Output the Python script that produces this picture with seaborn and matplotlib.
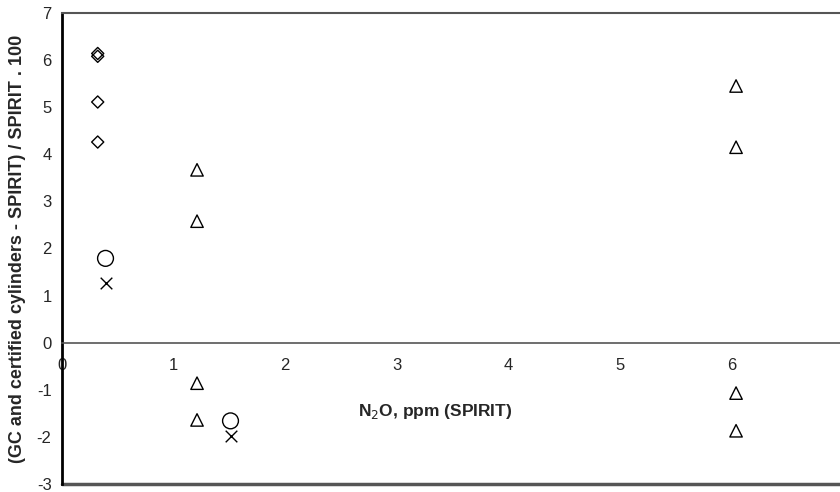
import matplotlib
matplotlib.use('Agg')
import matplotlib.pyplot as plt
import pandas as pd
import seaborn as sns

sns.set_style('white')
plt.rcParams['font.family'] = ['Liberation Sans', 'DejaVu Sans']
plt.rcParams['axes.unicode_minus'] = False

# diamonds
diam_x = [0.32, 0.32, 0.32, 0.32]
diam_y = [6.14, 6.08, 5.11, 4.26]
# triangles
tri_x = [1.21, 1.21, 1.21, 1.21, 6.04, 6.04, 6.04, 6.04]
tri_y = [3.67, 2.58, -0.86, -1.64, 5.45, 4.15, -1.07, -1.87]
# circles
circ_x = [0.39, 1.51]
circ_y = [1.79, -1.66]
# crosses
cross_x = [0.39, 1.51]
cross_y = [1.26, -1.99]

x_ticks = [0, 1, 2, 3, 4, 5, 6]
y_ticks = [-3, -2, -1, 0, 1, 2, 3, 4, 5, 6, 7]

fig = plt.figure(figsize=(8.4, 4.92), dpi=100)
ax = fig.add_axes([0.0738, 0.0163, 0.93, 0.9573])

sns.scatterplot(x=diam_x, y=diam_y, marker='D', s=38, facecolors='none',
                edgecolor='black', linewidth=1, ax=ax)
sns.scatterplot(x=tri_x, y=tri_y, marker='^', s=80, facecolors='none',
                edgecolor='black', linewidth=1, ax=ax)
sns.scatterplot(x=circ_x, y=circ_y, marker='o', s=130, facecolors='none',
                edgecolor='black', linewidth=1, ax=ax)
sns.scatterplot(x=cross_x, y=cross_y, marker='x', s=70, color='black',
                linewidth=1, ax=ax)

ax.set_xlim(0, 7)
ax.set_ylim(-3, 7)
ax.set_xticks(x_ticks)
ax.set_yticks(y_ticks)
ax.tick_params(axis='both', labelsize=12, direction='out', length=4,
               width=1, color='black')
ax.tick_params(axis='x', pad=7)

ax.spines['right'].set_visible(False)
ax.spines['left'].set_color('black')
ax.spines['left'].set_linewidth(2)
ax.spines['top'].set_color('#555555')
ax.spines['top'].set_linewidth(1.5)
ax.spines['bottom'].set_position(('data', 0))
ax.spines['bottom'].set_color('#555555')
ax.spines['bottom'].set_linewidth(1.2)
ax.axhline(ax.get_ylim()[0], color='#555555', lw=2.5, clip_on=False)

ax.set_ylabel('(GC and certified cylinders - SPIRIT) / SPIRIT . 100',
              fontsize=13, fontweight='bold', labelpad=8)
ax.set_xlabel('N$_2$O, ppm (SPIRIT)', fontsize=12.5, fontweight='bold')
ax.xaxis.set_label_coords(0.478, 0.175)

fig.savefig('out.png', dpi=100)
